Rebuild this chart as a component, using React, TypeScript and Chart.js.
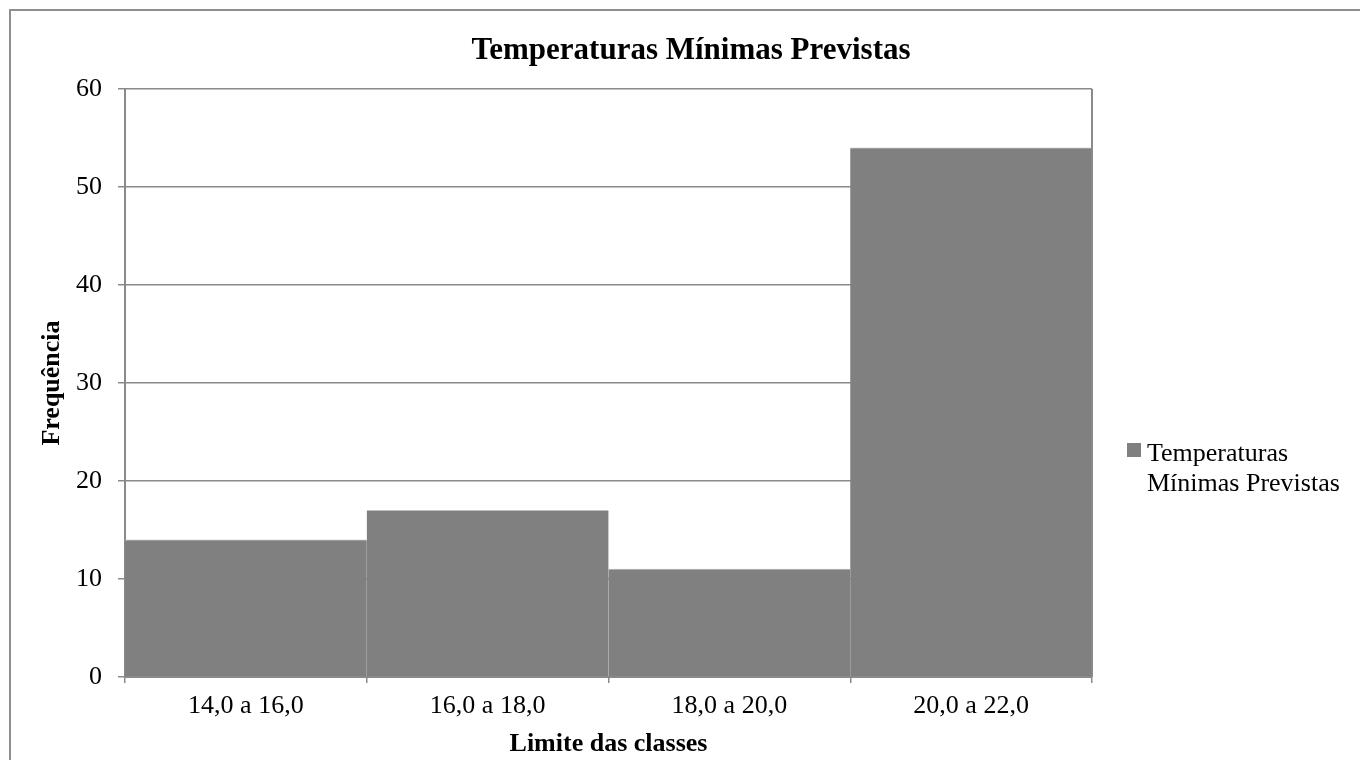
import React, { useEffect, useRef } from 'react';
import { Chart, registerables } from 'chart.js';

Chart.register(...registerables);

const categories = ['14,0 a 16,0', '16,0 a 18,0', '18,0 a 20,0', '20,0 a 22,0'];
const frequencies = [14, 17, 11, 54];
const yTickValues = [0, 10, 20, 30, 40, 50, 60];
const chartTitle = 'Temperaturas Mínimas Previstas';
const seriesName = 'Temperaturas Mínimas Previstas';
const legendLines = ['Temperaturas', 'Mínimas Previstas'];
const xTitle = 'Limite das classes';
const yTitle = 'Frequência';

const FONT = '"Liberation Serif", "Times New Roman", serif';
const AXIS = '#8a8a8a';
const BAR = '#808080';

const decor = {
  id: 'decor',
  afterDraw(chart: any) {
    const { ctx, chartArea } = chart;
    const { top, right, bottom } = chartArea;
    ctx.save();
    // outer frame
    ctx.strokeStyle = '#8f8f8f';
    ctx.lineWidth = 2;
    ctx.beginPath();
    ctx.moveTo(10, 780);
    ctx.lineTo(10, 10);
    ctx.lineTo(1380, 10);
    ctx.stroke();
    // right border of plot area
    ctx.strokeStyle = AXIS;
    ctx.lineWidth = 2;
    ctx.beginPath();
    ctx.moveTo(right, top);
    ctx.lineTo(right, bottom);
    ctx.stroke();
    // title
    ctx.fillStyle = '#000';
    ctx.font = `bold 31px ${FONT}`;
    ctx.textAlign = 'center';
    ctx.textBaseline = 'alphabetic';
    ctx.fillText(chartTitle, 691, 59);
    // legend
    ctx.fillStyle = BAR;
    ctx.fillRect(1127, 443, 14, 14);
    ctx.fillStyle = '#000';
    ctx.font = `26px ${FONT}`;
    ctx.textAlign = 'left';
    ctx.fillText(legendLines[0], 1147, 461);
    ctx.fillText(legendLines[1], 1147, 491);
    ctx.restore();
  },
};

export default function App() {
  const ref = useRef<HTMLCanvasElement | null>(null);

  useEffect(() => {
    if (!ref.current) return;
    const chart = new Chart(ref.current, {
      type: 'bar',
      data: {
        labels: categories,
        datasets: [
          {
            label: seriesName,
            data: frequencies,
            backgroundColor: BAR,
            borderColor: '#bdbdbd',
            borderWidth: { top: 1, left: 0, right: 0, bottom: 0 },
            barPercentage: 1,
            categoryPercentage: 1,
          },
        ],
      },
      options: {
        responsive: false,
        animation: false,
        devicePixelRatio: 1,
        layout: { padding: { left: 0, top: 89, right: 268, bottom: 0 } },
        plugins: {
          legend: { display: false },
          title: { display: false },
          tooltip: { enabled: false },
        },
        scales: {
          x: {
            offset: true,
            ticks: { padding: 8, color: '#000', font: { family: FONT, size: 26 } },
            grid: {
              offset: true,
              drawOnChartArea: false,
              tickLength: 6,
              color: AXIS,
              tickColor: AXIS,
              lineWidth: 1.5,
            },
            border: { color: AXIS, width: 2 },
            title: {
              display: true,
              text: xTitle,
              color: '#000',
              font: { family: FONT, size: 26, weight: 'bold' },
              padding: { top: 0, bottom: 0 },
            },
            afterFit(s: any) {
              s.height = 83;
            },
          },
          y: {
            min: 0,
            max: 60,
            afterBuildTicks(s: any) {
              s.ticks = yTickValues.map((v) => ({ value: v }));
            },
            ticks: { padding: 16, color: '#000', font: { family: FONT, size: 26 } },
            grid: { color: AXIS, tickColor: AXIS, lineWidth: 1.5, tickLength: 7 },
            border: { color: AXIS, width: 2 },
            title: {
              display: true,
              text: yTitle,
              color: '#000',
              font: { family: FONT, size: 26, weight: 'bold' },
              padding: { top: 37, bottom: 0 },
            },
            afterFit(s: any) {
              s.width = 125;
            },
          },
        },
      },
      plugins: [decor],
    } as any);
    return () => chart.destroy();
  }, []);

  return (
    <div style={{ position: 'fixed', left: 0, top: 0, width: 1360, height: 760, background: '#fff' }}>
      <canvas ref={ref} width={1360} height={760} style={{ width: 1360, height: 760, display: 'block' }} />
    </div>
  );
}
